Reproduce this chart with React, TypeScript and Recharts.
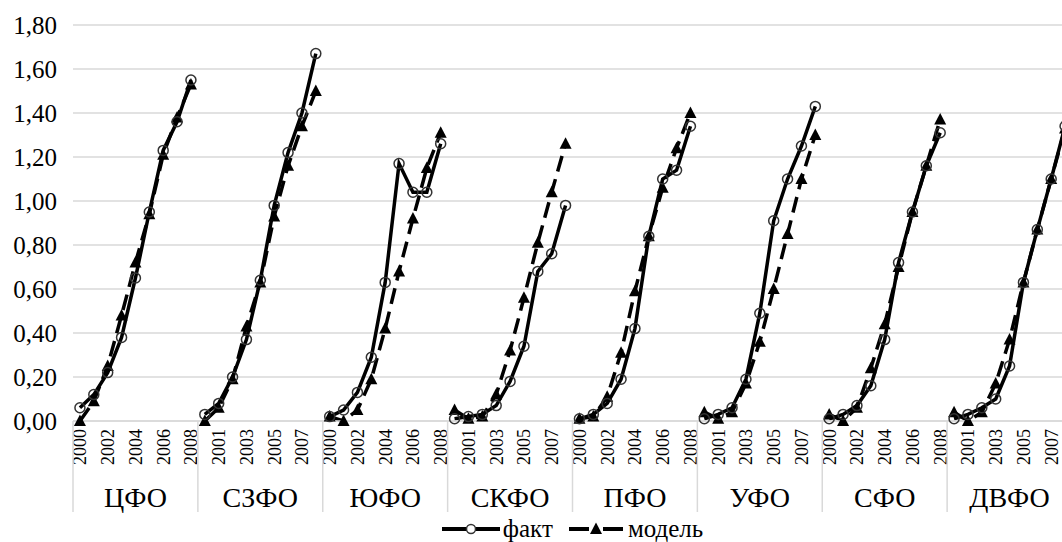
import React from "react";
import { LineChart, Line, XAxis, YAxis, CartesianGrid, Legend } from "recharts";

const FONT = "Liberation Serif, DejaVu Serif, serif";

const GROUPS = ["ЦФО", "СЗФО", "ЮФО", "СКФО", "ПФО", "УФО", "СФО", "ДВФО"];
const YEARS = ["2000", "2001", "2002", "2003", "2004", "2005", "2006", "2007", "2008"];
const Y_TICKS = [0, 0.2, 0.4, 0.6, 0.8, 1.0, 1.2, 1.4, 1.6, 1.8];

// факт
const factCFO = [0.06, 0.12, 0.22, 0.38, 0.65, 0.95, 1.23, 1.36, 1.55];
const factSZFO = [0.03, 0.08, 0.2, 0.37, 0.64, 0.98, 1.22, 1.4, 1.67];
const factUFO_S = [0.02, 0.05, 0.13, 0.29, 0.63, 1.17, 1.04, 1.04, 1.26];
const factSKFO = [0.01, 0.02, 0.03, 0.07, 0.18, 0.34, 0.68, 0.76, 0.98];
const factPFO = [0.01, 0.03, 0.08, 0.19, 0.42, 0.84, 1.1, 1.14, 1.34];
const factUFO_U = [0.01, 0.03, 0.06, 0.19, 0.49, 0.91, 1.1, 1.25, 1.43];
const factSFO = [0.01, 0.03, 0.07, 0.16, 0.37, 0.72, 0.95, 1.16, 1.31];
const factDVFO = [0.01, 0.03, 0.06, 0.1, 0.25, 0.63, 0.87, 1.1, 1.34];

// модель
const modelCFO = [0.0, 0.09, 0.25, 0.48, 0.72, 0.94, 1.21, 1.38, 1.53];
const modelSZFO = [0.0, 0.06, 0.19, 0.43, 0.63, 0.93, 1.16, 1.34, 1.5];
const modelUFO_S = [0.02, 0.0, 0.05, 0.19, 0.42, 0.68, 0.92, 1.15, 1.31];
const modelSKFO = [0.05, 0.01, 0.02, 0.12, 0.32, 0.56, 0.81, 1.04, 1.26];
const modelPFO = [0.01, 0.02, 0.11, 0.31, 0.59, 0.84, 1.06, 1.24, 1.4];
const modelUFO_U = [0.04, 0.01, 0.04, 0.17, 0.36, 0.6, 0.85, 1.1, 1.3];
const modelSFO = [0.03, 0.0, 0.06, 0.24, 0.44, 0.7, 0.95, 1.16, 1.37];
const modelDVFO = [0.04, 0.0, 0.04, 0.17, 0.37, 0.63, 0.87, 1.1, 1.33];

const FACT = [factCFO, factSZFO, factUFO_S, factSKFO, factPFO, factUFO_U, factSFO, factDVFO];
const MODEL = [modelCFO, modelSZFO, modelUFO_S, modelSKFO, modelPFO, modelUFO_U, modelSFO, modelDVFO];

const data = GROUPS.flatMap((g, gi) =>
  YEARS.map((y, yi) => {
    const row: Record<string, string | number> = { cat: `${g} ${y}` };
    row[`f${gi}`] = FACT[gi][yi];
    row[`m${gi}`] = MODEL[gi][yi];
    return row;
  })
);

const CHART_W = 1080;
const PLOT_LEFT = 73;
const PLOT_RIGHT = 1072;
const STEP = (PLOT_RIGHT - PLOT_LEFT) / data.length;

const fmt = (v: number) => v.toFixed(2).replace(".", ",");

function CategoryTick(props: any) {
  const { x, y, index } = props;
  const yi = index % YEARS.length;
  const gi = Math.floor(index / YEARS.length);
  return (
    <g>
      {index % 2 === 0 && (
        <text
          transform={`translate(${x},${y}) rotate(-90)`}
          textAnchor="end"
          dy="0.35em"
          fontSize={18}
          fontFamily={FONT}
          fill="#000"
        >
          {YEARS[yi]}
        </text>
      )}
      {yi === 0 && (
        <line
          x1={x - STEP / 2}
          x2={x - STEP / 2}
          y1={y - 8}
          y2={y + 83}
          stroke="#d9d9d9"
          strokeWidth={1.5}
        />
      )}
      {yi === 4 && (
        <text x={x} y={y + 78} textAnchor="middle" fontSize={28} fontFamily={FONT} fill="#000">
          {GROUPS[gi]}
        </text>
      )}
    </g>
  );
}

function Triangle(props: any) {
  const { cx, cy, value } = props;
  if (value == null || cx == null || cy == null) return <g />;
  return (
    <polygon
      points={`${cx},${cy - 6.5} ${cx - 6},${cy + 5} ${cx + 6},${cy + 5}`}
      fill="#000"
      stroke="none"
    />
  );
}

function LegendContent() {
  return (
    <div
      style={{
        display: "flex",
        justifyContent: "center",
        alignItems: "center",
        height: 26,
        fontFamily: FONT,
        fontSize: 25,
        color: "#000",
      }}
    >
      <svg width={58} height={20}>
        <line x1={0} x2={58} y1={10} y2={10} stroke="#000" strokeWidth={4} />
        <circle cx={29} cy={10} r={4.5} fill="#fff" stroke="#333" strokeWidth={1.5} />
      </svg>
      <span style={{ marginLeft: 3, marginRight: 16 }}>факт</span>
      <svg width={54} height={20}>
        <line x1={0} x2={20} y1={10} y2={10} stroke="#000" strokeWidth={4} />
        <line x1={34} x2={54} y1={10} y2={10} stroke="#000" strokeWidth={4} />
        <polygon points="27,3.5 21,15 33,15" fill="#000" />
      </svg>
      <span style={{ marginLeft: 5 }}>модель</span>
    </div>
  );
}

export default function App() {
  return (
    <div
      style={{
        position: "fixed",
        left: 0,
        top: 0,
        width: 1062,
        height: 542,
        overflow: "hidden",
        background: "#fff",
        fontFamily: FONT,
      }}
    >
      <LineChart
        width={CHART_W}
        height={542}
        data={data}
        margin={{ top: 25, right: CHART_W - PLOT_RIGHT, bottom: 0, left: 0 }}
        style={{ fontFamily: FONT }}
      >
        <CartesianGrid vertical={false} stroke="#d9d9d9" strokeWidth={1.5} />
        <XAxis
          dataKey="cat"
          interval={0}
          height={95}
          padding={{ left: STEP / 2, right: STEP / 2 }}
          axisLine={{ stroke: "#d9d9d9", strokeWidth: 1.5 }}
          tickLine={false}
          tick={<CategoryTick />}
        />
        <YAxis
          width={PLOT_LEFT}
          domain={[0, 1.8]}
          ticks={Y_TICKS}
          tickFormatter={fmt}
          axisLine={false}
          tickLine={false}
          tickMargin={10}
          tick={{ fontSize: 25, fontFamily: FONT, fill: "#000" }}
        />
        <Legend
          verticalAlign="bottom"
          content={<LegendContent />}
          wrapperStyle={{ left: PLOT_LEFT, width: PLOT_RIGHT - PLOT_LEFT, bottom: 0 }}
        />
        {GROUPS.map((g, gi) => (
          <Line
            key={`m${gi}`}
            dataKey={`m${gi}`}
            name="модель"
            stroke="#000"
            strokeWidth={3.5}
            strokeDasharray="16 8"
            dot={<Triangle />}
            activeDot={false}
            legendType="none"
            isAnimationActive={false}
          />
        ))}
        {GROUPS.map((g, gi) => (
          <Line
            key={`f${gi}`}
            dataKey={`f${gi}`}
            name="факт"
            stroke="#000"
            strokeWidth={3.5}
            dot={{ r: 5, fill: "none", stroke: "#333", strokeWidth: 1.5 }}
            activeDot={false}
            legendType="none"
            isAnimationActive={false}
          />
        ))}
      </LineChart>
    </div>
  );
}
